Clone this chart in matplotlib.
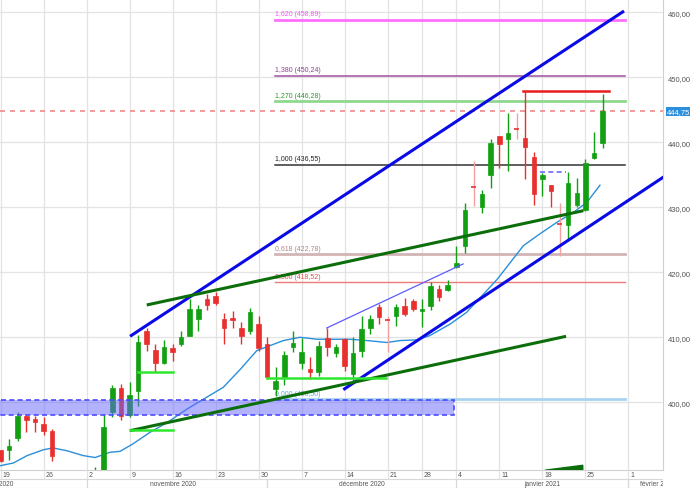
import matplotlib.pyplot as plt
from matplotlib.patches import Rectangle, Polygon
from matplotlib.transforms import blended_transform_factory

plt.rcParams['font.family'] = ['Liberation Sans', 'DejaVu Sans']

# bougies (index de seance, ouverture, plus haut, plus bas, cloture)
opens = [392.6, 392.6, 394.5, 397.85, 397.4, 396.6, 395.6, 389.2, 386.0, 384.0,
         385.0, 386.0, 388.5, 398.55, 402.15, 398.05, 401.8, 410.9, 408.1, 406.05,
         408.35, 408.9, 410.25, 412.8, 415.9, 416.3, 412.8, 412.9, 411.4, 410.9,
         412.0, 409.0, 402.0, 403.85, 408.55, 406.1, 405.1, 404.7, 409.85, 407.6,
         409.8, 404.35, 407.95, 411.5, 414.6, 412.7, 413.2, 414.85, 415.6, 414.1,
         414.85, 417.5, 417.3, 420.75, 424.05, 433.25, 430.1, 435.0, 440.9, 440.55,
         442.15, 440.65, 437.7, 434.35, 433.4, 427.45, 427.2, 430.35, 429.6, 437.6,
         439.85]
highs = [392.7, 394.35, 398.5, 398.2, 397.85, 397.8, 395.9, 389.4, 387.5, 386.0,
         387.0, 390.1, 398.2, 402.7, 402.8, 403.1, 410.35, 411.4, 409.0, 409.6,
         409.0, 411.0, 415.9, 415.0, 416.65, 416.9, 413.7, 414.1, 412.4, 414.45,
         413.2, 410.0, 405.45, 407.95, 410.9, 409.85, 406.9, 409.5, 411.4, 408.95,
         409.95, 410.0, 413.2, 413.45, 415.1, 413.2, 415.1, 416.1, 415.9, 415.9,
         418.45, 418.0, 418.85, 424.0, 430.65, 437.15, 432.7, 440.5, 441.0, 444.5,
         444.5, 447.9, 438.45, 435.25, 433.4, 430.65, 435.4, 434.45, 437.45, 441.6,
         447.4]
lows = [390.8, 391.1, 394.1, 395.4, 395.4, 395.0, 391.0, 385.5, 383.0, 382.5,
        383.0, 385.0, 388.0, 397.7, 397.2, 397.7, 399.5, 407.95, 404.7, 405.9,
        406.4, 408.7, 410.2, 411.0, 414.2, 414.9, 409.0, 411.5, 409.0, 410.5,
        407.95, 403.6, 401.0, 402.7, 407.8, 405.1, 403.55, 404.1, 407.15, 406.9,
        404.85, 403.1, 406.9, 410.5, 412.0, 407.8, 411.7, 413.2, 414.1, 411.65,
        414.2, 415.6, 417.15, 420.7, 423.0, 430.25, 429.2, 432.9, 436.0, 435.6,
        440.5, 434.35, 430.35, 431.7, 430.0, 422.55, 424.75, 430.0, 429.5, 437.5,
        439.2]
closes = [391.0, 393.2, 397.9, 397.3, 397.0, 395.6, 391.8, 386.0, 384.0, 385.0,
          386.0, 388.5, 396.2, 402.15, 397.85, 401.1, 409.35, 408.9, 406.05, 408.55,
          407.7, 410.1, 414.35, 414.35, 415.0, 415.3, 411.5, 412.6, 410.15, 413.9,
          408.4, 403.95, 403.3, 407.3, 409.1, 407.8, 404.6, 408.6, 408.45, 408.45,
          405.55, 407.6, 411.35, 412.8, 413.05, 412.6, 414.7, 413.6, 414.35, 414.4,
          417.9, 416.25, 418.0, 421.4, 429.55, 433.2, 432.1, 439.9, 439.8, 441.4,
          442.1, 439.35, 432.05, 435.0, 432.55, 427.4, 433.7, 432.15, 436.8, 438.35,
          444.75]

# moyenne mobile (index, valeur)
ma_idx = [0, 1.5, 3.1, 5, 6.1, 7.7, 9.6, 11, 12.7, 13.9, 15.4, 17.4, 19.4, 21.7,
          24, 25.9, 27.9, 29.8, 31.3, 32.9, 34.8, 36.8, 38.7, 40.6, 42.6, 44.9,
          46.5, 48.4, 49.9, 52.3, 54.2, 56.9, 57.8, 60.8, 62.7, 64.7, 66.6, 68.2, 69.7]
ma_val = [390.25, 390.66, 391.8, 392.7, 392.97, 392.55, 391.8, 391.5, 392.3, 392.45,
          393.6, 395.4, 396.9, 398.97, 400.8, 402.3, 405.1, 407.95, 408.7, 409.5,
          410.0, 409.7, 409.7, 409.7, 409.5, 409.2, 409.5, 409.6, 410.25, 412.05,
          413.85, 417.7, 419.0, 424.1, 425.9, 427.7, 429.2, 430.8, 433.4]

# niveaux de Fibonacci
fib_ratios = [0.0, 0.5, 0.618, 1.0, 1.27, 1.38, 1.62]
fib_values = [400.50, 418.52, 422.78, 436.55, 446.28, 450.24, 458.89]
fib_range = [31.9, 72.6]

# traces manuels (x en index, y en prix)
blue_up = ([15.06, 72.5], [410.15, 460.2])
blue_low = ([39.86, 78.0], [401.94, 435.46])
green_up = ([17.0, 67.77], [414.97, 429.48])
green_low = ([15.06, 65.76], [395.63, 410.15])
thin_chan = ([37.93, 53.78], [411.43, 421.28])
bright_h = [(15, 20, 395.7), (16, 20, 404.7), (31, 44.8, 403.75)]
red_high = (60.8, 70.8, 447.9)
dash_h = (62.7, 65.8, 435.5)
zone = (-1, 52.77, 398.1, 400.4)
last_price = 444.75
wedge_x = [63.3, 67.7, 67.7]
wedge_y = [389.55, 390.3, 389.55]

mondays = [0, 5, 10, 15, 20, 25, 30, 35, 40, 45, 49, 53, 58, 63, 68, 73]
day_labels = ['19', '26', '2', '9', '16', '23', '30', '7', '14', '21', '28',
              '4', '11', '18', '25', '1']
month_starts = [10, 31, 53, 73]
months = [('octobre 2020', 1.5, 'right'), ('novembre 2020', 20.0, 'center'),
          ('décembre 2020', 42.0, 'center'), ('janvier 2021', 63.0, 'center'),
          ('février 2021', 74.4, 'left')]

X0, X1 = -0.06, 77.03
Y0, Y1 = 389.58, 462.05

fig = plt.figure(figsize=(6.9, 4.89), dpi=100)
ax = fig.add_axes([0, 18 / 489, 663 / 690, 471 / 489])
ax.set_xlim(X0, X1)
ax.set_ylim(Y0, Y1)

# grille
ax.set_xticks(mondays)
ax.set_yticks(range(400, 461, 10))
ax.set_yticklabels([f'{v},00' for v in range(400, 461, 10)])
ax.grid(True, color='#e3e3e3', lw=0.9, zorder=0)
ax.set_axisbelow(True)
ax.yaxis.tick_right()
ax.tick_params(axis='x', length=0, labelbottom=False)
ax.tick_params(axis='y', length=0, pad=3.5, labelsize=5.5, labelcolor='#555555')
for s in ['top', 'left']:
    ax.spines[s].set_visible(False)
ax.spines['right'].set_color('#d0d0d0')
ax.spines['bottom'].set_color('#d0d0d0')

# fibonacci
fib_styles = [('#a8d4f2', 2.0, '#5aaae0'), ('#ec7a7a', 1.0, '#e05050'),
              ('#d2b4b4', 2.0, '#b08585'), ('#333333', 1.1, '#222222'),
              ('#8fd88f', 2.0, '#2a9a2a'), ('#a050a0', 1.1, '#904090'),
              ('#ff70ff', 2.0, '#ff50ff')]
for r, v, (lc, lw, tc) in zip(fib_ratios, fib_values, fib_styles):
    ax.plot(fib_range, [v, v], color=lc, lw=lw, zorder=1)
    lab = f'{r:.3f} ({v:.2f})'.replace('.', ',')
    ax.text(fib_range[0], v + 0.35, lab, color=tc, fontsize=5, va='bottom',
            ha='left', zorder=1)

# moyenne mobile
ax.plot(ma_idx, ma_val, color='#2b8fdb', lw=1.0, zorder=2)

# bougies
up_c, dn_c, doji_c = '#12a012', '#e8302e', '#f2a0a0'
for i, (o, h, l, c) in enumerate(zip(opens, highs, lows, closes)):
    if abs(c - o) < 0.2:
        ax.vlines(i, l, h, color=doji_c, lw=1, zorder=3)
        ax.hlines(c, i - 0.26, i + 0.26, color=dn_c, lw=1.2, zorder=3)
        continue
    col = up_c if c >= o else dn_c
    ax.vlines(i, l, h, color=col, lw=1, zorder=3)
    ax.bar(i, abs(c - o), bottom=min(o, c), width=0.52, color=col,
           edgecolor=col, lw=0.5, zorder=4)

# zone bleue
zx0, zx1, zy0, zy1 = zone
ax.add_patch(Rectangle((zx0, zy0), zx1 - zx0, zy1 - zy0,
                       facecolor=(0.40, 0.40, 1.0, 0.5), edgecolor='#4a4aff',
                       lw=1.2, ls=(0, (3, 2)), zorder=5))

# lignes de tendance
ax.plot(*blue_up, color='#0a0ae6', lw=2.2, zorder=6, solid_capstyle='butt')
ax.plot(*blue_low, color='#0a0ae6', lw=2.2, zorder=6, solid_capstyle='butt')
ax.plot(*green_up, color='#0b6e0b', lw=2.2, zorder=6, solid_capstyle='butt')
ax.plot(*green_low, color='#0b6e0b', lw=2.2, zorder=6, solid_capstyle='butt')
ax.plot(*thin_chan, color='#5c5cff', lw=0.9, zorder=6)
for a, b, v in bright_h:
    ax.plot([a, b], [v, v], color='#2ee82e', lw=1.8, zorder=6)
ax.plot([red_high[0], red_high[1]], [red_high[2]] * 2, color='#e81c1c',
        lw=1.8, zorder=6)
ax.plot([dash_h[0], dash_h[1]], [dash_h[2]] * 2, color='#6a6aff', lw=1.2,
        ls=(0, (3, 2)), zorder=6)
ax.add_patch(Polygon(list(zip(wedge_x, wedge_y)), closed=True,
                     color='#0b6e0b', zorder=6))

# dernier cours
ax.axhline(last_price, color='#f08a8a', lw=1.2, ls=(0, (3, 3)), zorder=2)
tr = blended_transform_factory(ax.transAxes, ax.transData)
ax.text(1.006, last_price, f'{last_price:.2f}'.replace('.', ','), transform=tr,
        color='white', fontsize=5.5, va='center', ha='left', clip_on=False,
        bbox=dict(boxstyle='square,pad=0.15', fc='#2b8fdb', ec='none'))

# axe des dates
axb = fig.add_axes([0, 0, 663 / 690, 18 / 489])
axb.set_xlim(X0, X1)
axb.set_ylim(0, 18)
axb.axis('off')
axb.axhline(9, color='#d8d8d8', lw=0.8)
axb.axhline(0.4, color='#d8d8d8', lw=0.8)
axb.vlines(mondays, 9, 18, color='#e3e3e3', lw=0.9)
axb.vlines(month_starts, 0.4, 9, color='#d8d8d8', lw=0.9)
for m, lab in zip(mondays, day_labels):
    axb.text(m + 0.2, 13.2, lab, fontsize=5, color='#555555', va='center',
             ha='left', clip_on=True)
for lab, xm, ha in months:
    axb.text(xm, 4.6, lab, fontsize=4.8, color='#555555', va='center', ha=ha,
             clip_on=True)

fig.savefig('out.png', dpi=100)
